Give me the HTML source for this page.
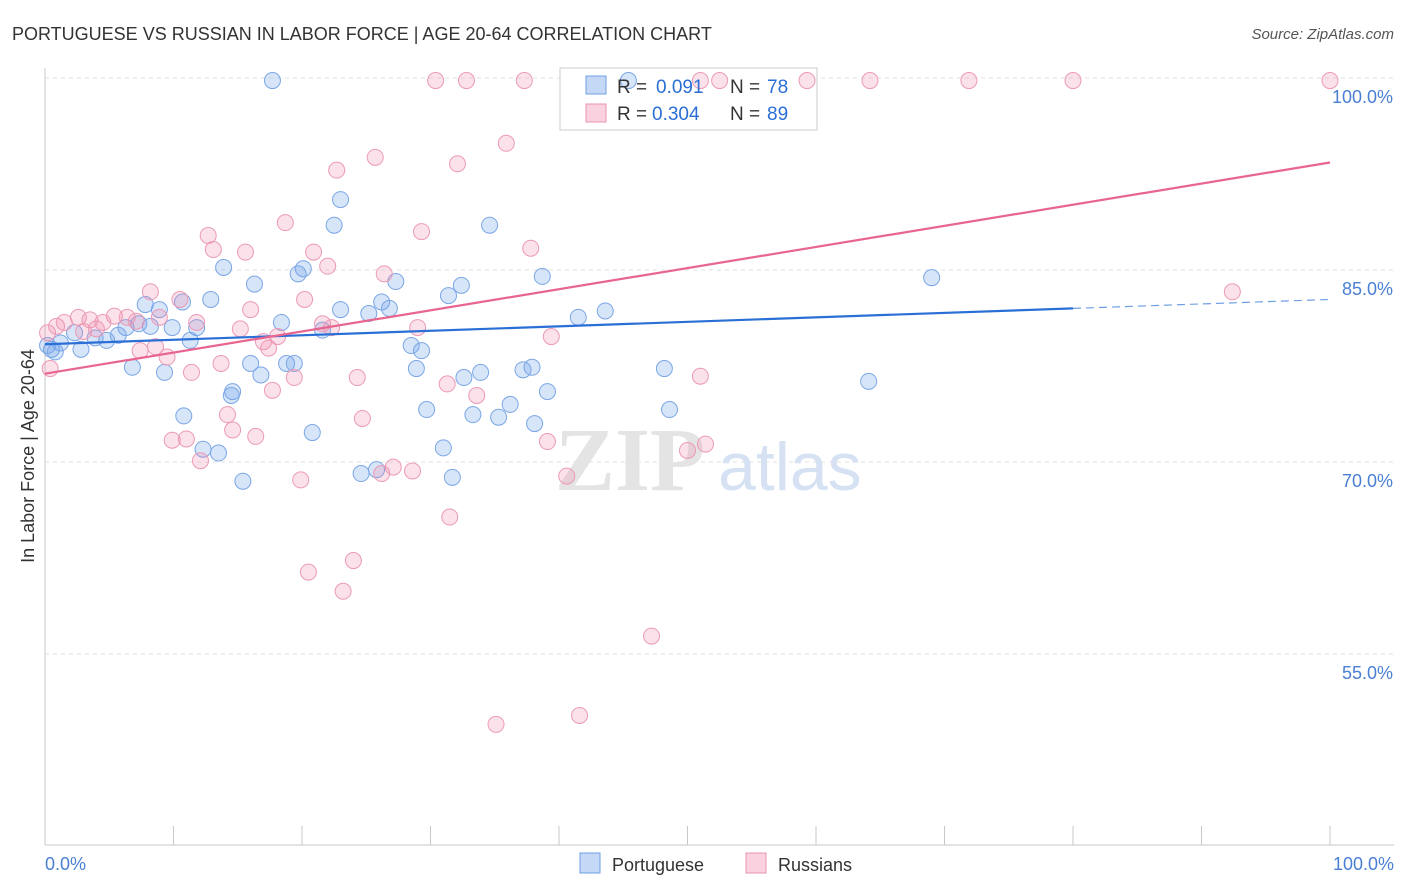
<!DOCTYPE html>
<html><head><meta charset="utf-8"><style>
body{margin:0;background:#fff;font-family:"Liberation Sans",sans-serif}
svg{display:block}
</style></head><body>
<svg id="c" width="1406" height="892" xmlns="http://www.w3.org/2000/svg"></svg>
<script>
const yTicks=[100,85,70,55];
const yTickLabels=["100.0%","85.0%","70.0%","55.0%"];
const xTickLabels=["0.0%","100.0%"];
const bluePx=[[273,80],[628,80],[341,200],[334,225],[490,225],[223,267],[254,284],[298,274],[303,269],[396,282],[461,285],[449,296],[542,277],[932,278],[211,300],[145,304],[182,302],[160,310],[340,310],[369,313],[382,302],[390,308],[578,317],[605,311],[281,322],[322,330],[172,327],[196,327],[151,326],[139,324],[126,328],[118,335],[107,341],[95,338],[75,333],[60,343],[52,350],[81,349],[190,341],[411,346],[421,351],[250,364],[287,364],[294,363],[133,367],[164,372],[261,375],[417,368],[464,377],[480,373],[523,370],[532,367],[664,369],[869,382],[233,391],[231,395],[548,392],[427,410],[510,405],[473,415],[498,417],[670,410],[184,416],[312,432],[535,424],[203,449],[218,453],[443,448],[243,481],[361,474],[376,470],[452,477],[47,345],[55,352]];
const pinkPx=[[436,80],[466,80],[524,80],[720,80],[807,80],[870,80],[969,80],[1073,80],[1330,80],[700,80],[506,143],[375,157],[458,164],[337,170],[285,223],[422,232],[208,236],[213,250],[246,252],[314,252],[531,248],[328,266],[384,274],[150,292],[180,300],[305,299],[250,310],[1232,292],[160,318],[197,322],[240,329],[322,324],[331,328],[418,328],[48,333],[57,326],[64,323],[78,318],[90,320],[103,322],[115,316],[127,318],[136,321],[84,331],[97,329],[551,337],[263,342],[268,348],[278,336],[140,351],[155,347],[167,357],[221,363],[447,384],[477,395],[357,378],[191,373],[294,378],[272,390],[700,376],[228,415],[363,418],[232,430],[256,436],[172,440],[186,439],[201,461],[548,442],[688,450],[706,444],[301,480],[382,474],[393,467],[413,471],[567,476],[450,517],[309,572],[353,561],[343,591],[651,636],[496,725],[579,716],[50,368]];
const toData=p=>[+((p[0]-45)/12.85).toFixed(1),+(100-(p[1]-78)/12.8).toFixed(1)];
const portugueseX=bluePx.map(p=>toData(p)[0]), portugueseY=bluePx.map(p=>toData(p)[1]);
const russianX=pinkPx.map(p=>toData(p)[0]), russianY=pinkPx.map(p=>toData(p)[1]);
const blueTrend=[[0,79.2],[80,82.0],[100,82.7]];
const pinkTrend=[[0,76.9],[100,93.4]];

const X=v=>45+v*12.85, Y=v=>78+(100-v)*12.8;
const svg=document.getElementById('c');const NS="http://www.w3.org/2000/svg";
function el(t,a,name,txt){const e=document.createElementNS(NS,t);for(const k in a)e.setAttribute(k,a[k]);


if(txt!==undefined)e.textContent=txt;svg.appendChild(e);return e;}
el('text',{x:12,y:40,'font-size':18,fill:'#333'},'chart-title','PORTUGUESE VS RUSSIAN IN LABOR FORCE | AGE 20-64 CORRELATION CHART');
el('text',{x:1394,y:39,'font-size':15,fill:'#555','font-style':'italic','text-anchor':'end'},'source-label','Source: ZipAtlas.com');
yTicks.forEach((t,i)=>{el('line',{x1:45,x2:1394,y1:Y(t),y2:Y(t),stroke:'#e2e2e2','stroke-dasharray':'4,4'},'gridline');
el('text',{x:1393,y:Y(t)+25,'font-size':18,fill:'#4a7fd4','text-anchor':'end'},'y-tick-label',yTickLabels[i]);});
el('line',{x1:45,x2:45,y1:68,y2:845,stroke:'#c8c8c8'},'y-axis');
el('line',{x1:45,x2:1394,y1:845,y2:845,stroke:'#c8c8c8'},'x-axis');
for(let i=0;i<=10;i++)el('line',{x1:X(i*10),x2:X(i*10),y1:826,y2:845,stroke:'#c8c8c8'},'x-tick');
el('text',{x:45,y:870,'font-size':18,fill:'#4a7fd4'},'x-tick-label',xTickLabels[0]);
el('text',{x:1394,y:870,'font-size':18,fill:'#4a7fd4','text-anchor':'end'},'x-tick-label',xTickLabels[1]);
el('text',{x:34,y:456,'font-size':18,fill:'#333','text-anchor':'middle',transform:'rotate(-90 34 456)'},'y-axis-title','In Labor Force | Age 20-64');
el('text',{x:555,y:490,'font-size':90,fill:'#e4e4e4','font-family':'Liberation Serif',"font-weight":"bold"},'watermark-zip','ZIP');
el('text',{x:718,y:490,'font-size':68,fill:'#d6e2f3'},'watermark-atlas','atlas');
// legend box (semi-transparent, drawn beneath points)
el('rect',{x:560,y:68,width:257,height:62,fill:'#fff','fill-opacity':0.85,stroke:'#ccc'},'legend-box');
function dots(xs,ys,f,s,n){xs.forEach((x,i)=>el('circle',{cx:X(x),cy:Y(ys[i]),r:8,fill:f,stroke:s,'stroke-width':1},n));}
dots(portugueseX,portugueseY,'rgba(110,160,235,0.28)','#7aa6e6','portuguese-point');
dots(russianX,russianY,'rgba(240,140,175,0.26)','#ec9ab5','russian-point');
el('line',{x1:X(blueTrend[0][0]),y1:Y(blueTrend[0][1]),x2:X(blueTrend[1][0]),y2:Y(blueTrend[1][1]),stroke:'#2a6fd6','stroke-width':2.2},'portuguese-trendline');
el('line',{x1:X(blueTrend[1][0]),y1:Y(blueTrend[1][1]),x2:X(blueTrend[2][0]),y2:Y(blueTrend[2][1]),stroke:'#6f9fe3','stroke-width':1.2,'stroke-dasharray':'8,5'},'portuguese-trend-extension');
el('line',{x1:X(pinkTrend[0][0]),y1:Y(pinkTrend[0][1]),x2:X(pinkTrend[1][0]),y2:Y(pinkTrend[1][1]),stroke:'#e8658f','stroke-width':2.2},'russian-trendline');
el('rect',{x:586,y:76,width:20,height:18,fill:'rgba(110,160,235,0.4)',stroke:'#6f9fe3'},'legend-swatch-portuguese');
el('rect',{x:586,y:104,width:20,height:18,fill:'rgba(240,140,175,0.4)',stroke:'#ea94b0'},'legend-swatch-russian');
el('text',{x:617,y:93,'font-size':19,fill:'#333'},'legend-r-blue','R =');
el('text',{x:656,y:93,'font-size':19,fill:'#2a6fd6'},'legend-r-blue-value','0.091');
el('text',{x:730,y:93,'font-size':19,fill:'#333'},'legend-n-blue','N =');
el('text',{x:767,y:93,'font-size':19,fill:'#2a6fd6'},'legend-n-blue-value','78');
el('text',{x:617,y:120,'font-size':19,fill:'#333'},'legend-r-pink','R =');
el('text',{x:652,y:120,'font-size':19,fill:'#2a6fd6'},'legend-r-pink-value','0.304');
el('text',{x:730,y:120,'font-size':19,fill:'#333'},'legend-n-pink','N =');
el('text',{x:767,y:120,'font-size':19,fill:'#2a6fd6'},'legend-n-pink-value','89');
el('rect',{x:580,y:853,width:20,height:20,fill:'rgba(110,160,235,0.4)',stroke:'#6f9fe3'},'bottom-legend-swatch-portuguese');
el('text',{x:612,y:871,'font-size':18,fill:'#333'},'bottom-legend-portuguese','Portuguese');
el('rect',{x:746,y:853,width:20,height:20,fill:'rgba(240,140,175,0.4)',stroke:'#ea94b0'},'bottom-legend-swatch-russian');
el('text',{x:778,y:871,'font-size':18,fill:'#333'},'bottom-legend-russian','Russians');
</script>
</body></html>
